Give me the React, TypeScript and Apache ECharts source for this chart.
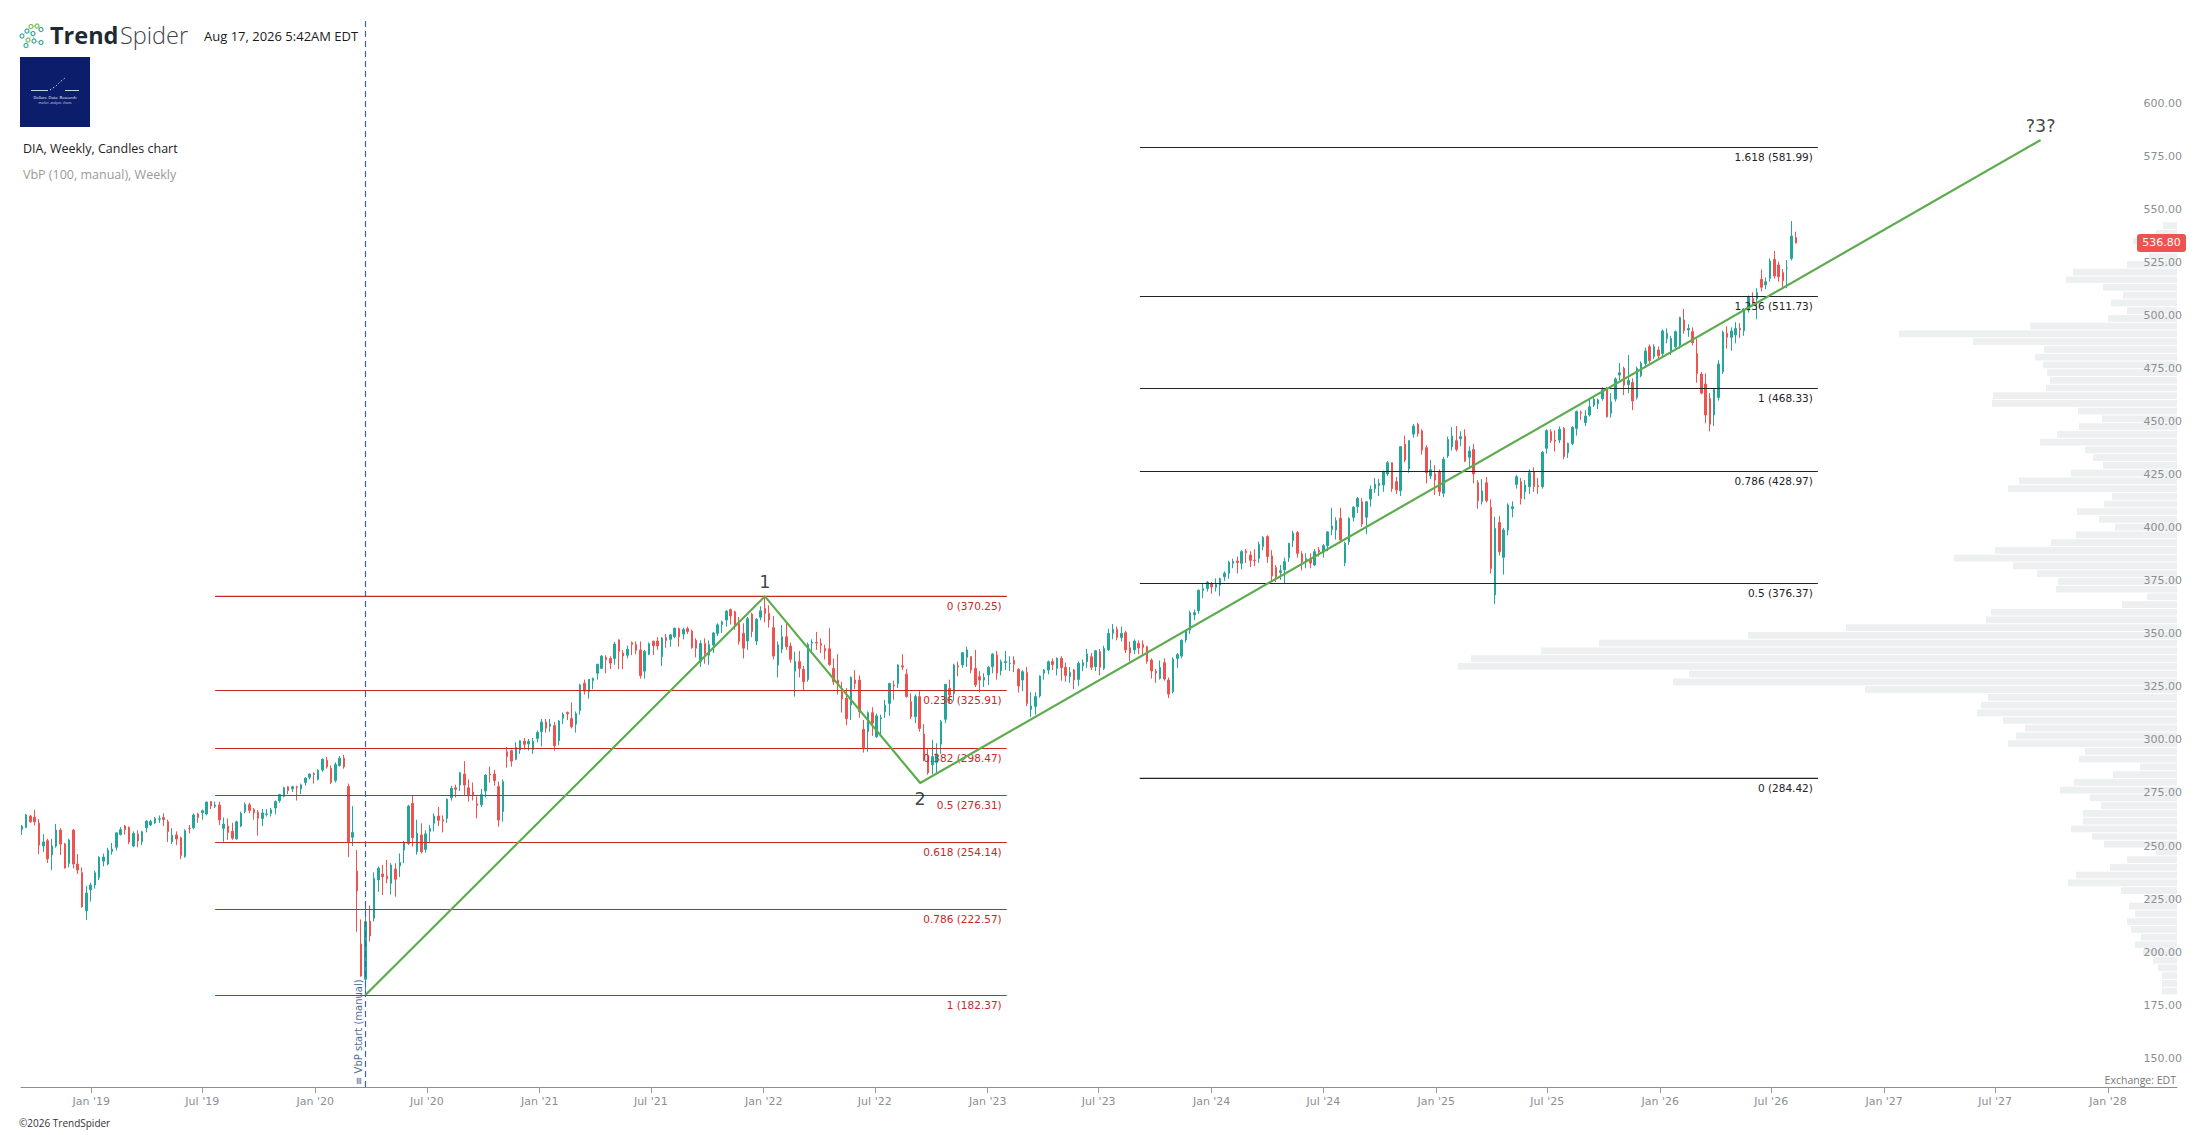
import React, { useEffect, useRef } from "react";
import * as echarts from "echarts";

const DAY = 86400000;
const ts = (s: string) => {
  const [y, m, d] = s.split("-").map(Number);
  return Date.UTC(y, m - 1, d);
};

// ---- Weekly DIA candles, one row per week (Monday): [open, high, low, close]
const weeks2018Start = "2018-09-10";
const weeks2018 = [
  [260.5, 262.5, 257.8, 261.9], [261.4, 267.7, 261.0, 267.2], [266.7, 267.3, 263.5, 264.0], [266.2, 269.6, 262.3, 264.0],
  [263.4, 265.3, 248.8, 253.0], [252.6, 258.2, 249.8, 254.5], [255.1, 256.0, 244.6, 246.5], [248.4, 255.9, 241.3, 252.6],
  [252.6, 263.0, 251.8, 260.1], [260.1, 261.0, 248.4, 253.5], [253.5, 254.0, 242.0, 242.2], [244.4, 256.0, 242.5, 255.4],
  [260.1, 260.6, 242.0, 244.1], [244.1, 248.8, 239.4, 241.3], [240.0, 242.5, 223.5, 224.0], [222.1, 233.8, 217.7, 230.4],
  [231.9, 235.3, 226.4, 234.2],
];
const weeks2019Start = "2019-01-07";
const weeks2019 = [
  [234.2, 241.0, 232.5, 240.0], [237.7, 247.8, 236.5, 247.3], [245.5, 249.0, 243.0, 247.4], [244.1, 251.8, 243.5, 250.6],
  [250.0, 254.0, 248.5, 251.1], [252.0, 259.0, 250.5, 258.8], [258.0, 261.5, 257.5, 260.3], [262.0, 262.5, 258.0, 260.3],
  [261.4, 261.8, 253.5, 254.5], [252.6, 259.5, 252.0, 258.5], [258.2, 260.0, 252.0, 255.0], [254.6, 259.8, 253.0, 259.3],
  [261.2, 264.8, 259.0, 264.3], [262.5, 265.0, 262.0, 264.1], [263.5, 266.3, 263.0, 265.6], [265.2, 267.0, 263.5, 265.4],
  [266.0, 268.0, 262.0, 265.1], [264.0, 265.0, 254.5, 259.4], [254.6, 261.0, 253.5, 257.6], [257.8, 259.5, 253.0, 255.9],
  [256.5, 257.0, 246.5, 248.2], [247.6, 260.5, 247.0, 259.8], [261.0, 262.5, 258.5, 260.9], [261.2, 268.0, 260.5, 267.2],
  [267.7, 268.2, 263.5, 266.0], [268.3, 269.8, 265.0, 269.2], [267.7, 273.5, 267.0, 273.3], [273.5, 273.8, 270.0, 271.5],
  [271.3, 273.5, 270.5, 271.9], [271.9, 273.5, 262.5, 264.9], [260.9, 266.0, 254.6, 262.9], [262.0, 265.5, 255.5, 258.9],
  [259.5, 263.5, 255.5, 256.3], [256.0, 264.5, 255.5, 264.0], [262.0, 268.8, 261.5, 268.0], [268.9, 273.2, 268.0, 272.2],
  [272.0, 273.0, 268.0, 269.4], [269.8, 270.5, 265.0, 268.2], [268.5, 269.5, 257.5, 265.7], [265.5, 270.0, 262.0, 268.2],
  [267.5, 270.0, 266.5, 267.7], [268.0, 270.5, 266.5, 269.6], [270.5, 274.0, 267.5, 273.5], [274.0, 277.2, 273.0, 276.8],
  [276.0, 280.5, 275.5, 280.1], [280.5, 280.8, 277.0, 278.8], [279.5, 281.0, 278.0, 280.5], [280.5, 281.0, 274.0, 280.2],
  [279.5, 282.0, 277.0, 281.4], [282.5, 285.0, 281.0, 284.6], [285.0, 286.8, 284.0, 286.5], [286.8, 287.2, 282.0, 286.3],
];
const weeks2020Start = "2020-01-06";
const weeks2020 = [
  [284.0, 288.8, 283.5, 288.2], [288.4, 293.8, 287.5, 293.5], [293.0, 294.5, 289.0, 289.9], [289.2, 290.5, 281.8, 282.6],
  [283.5, 292.0, 282.5, 291.0], [290.5, 295.0, 290.0, 294.0], [294.0, 295.5, 289.0, 289.9], [280.6, 282.0, 247.3, 254.6],
  [256.7, 271.4, 252.6, 259.0], [240.8, 250.7, 212.2, 231.4], [206.4, 218.0, 191.0, 191.3], [189.8, 225.6, 182.37, 216.9],
  [217.2, 224.5, 207.5, 210.3], [218.5, 240.2, 217.0, 237.3], [236.6, 243.0, 231.0, 242.1], [239.4, 243.6, 229.5, 238.1],
  [238.5, 246.0, 235.0, 237.2], [235.0, 244.5, 229.8, 243.6], [241.7, 244.5, 228.7, 236.9], [243.2, 249.1, 238.0, 244.9],
  [250.7, 255.0, 244.5, 254.2], [253.8, 272.0, 253.0, 271.4], [272.7, 276.3, 252.3, 256.5], [249.9, 265.0, 248.5, 258.6],
  [257.8, 263.3, 249.0, 249.9], [251.0, 260.0, 249.5, 258.3], [259.5, 262.5, 254.5, 260.8], [263.3, 268.0, 259.5, 266.7],
  [266.7, 271.0, 262.0, 264.7], [265.0, 267.0, 259.0, 264.3], [265.6, 275.0, 263.5, 274.6], [275.4, 281.0, 274.0, 279.8],
  [280.0, 281.5, 275.5, 279.3], [281.3, 287.5, 278.5, 287.1], [286.5, 292.6, 276.5, 281.3], [280.0, 284.0, 273.5, 276.7],
  [278.0, 282.5, 274.0, 276.6], [272.5, 276.0, 265.6, 271.7], [272.0, 279.5, 271.0, 276.8], [278.5, 286.5, 275.5, 286.0],
  [286.5, 290.0, 282.5, 286.1], [286.5, 288.5, 281.0, 283.4], [280.6, 283.0, 261.7, 264.8], [268.8, 284.0, 264.0, 282.9],
  [297.0, 299.3, 289.5, 294.8], [297.5, 298.0, 290.0, 292.6], [293.5, 301.5, 293.0, 299.1], [297.8, 302.5, 296.0, 302.2],
  [302.0, 303.5, 298.0, 300.5], [300.7, 303.0, 297.5, 301.8], [298.0, 303.5, 296.0, 302.0], [303.3, 307.0, 301.5, 306.1],
];
const weeks2021Start = "2021-01-04";
const weeks2021 = [
  [306.5, 312.5, 299.5, 311.0], [311.0, 312.5, 306.0, 308.1], [309.0, 312.5, 306.5, 310.0], [309.3, 311.0, 297.5, 299.8],
  [302.2, 312.0, 300.0, 311.5], [312.8, 315.5, 310.0, 314.6], [315.5, 316.0, 312.0, 314.9], [312.7, 320.3, 308.0, 308.8],
  [310.0, 316.0, 306.0, 315.0], [316.4, 329.0, 314.5, 328.5], [329.3, 331.0, 324.0, 325.6], [325.3, 331.3, 322.0, 331.1],
  [330.5, 332.0, 326.5, 331.5], [334.0, 338.5, 331.0, 338.2], [336.3, 342.5, 336.0, 342.1], [341.5, 342.5, 334.0, 340.4],
  [341.0, 342.0, 336.0, 338.8], [341.0, 348.8, 338.0, 347.8], [349.7, 350.0, 335.9, 344.2], [343.5, 345.0, 335.9, 342.1],
  [342.5, 347.0, 341.0, 345.3], [348.4, 349.0, 342.5, 347.6], [347.5, 349.0, 343.0, 344.8], [345.0, 349.0, 331.5, 332.9],
  [335.0, 345.0, 331.5, 344.3], [343.0, 348.5, 342.5, 347.9], [349.0, 349.5, 342.6, 347.0], [349.2, 351.0, 345.0, 346.9],
  [341.8, 351.0, 337.4, 350.6], [350.8, 352.5, 346.0, 349.4], [350.0, 352.5, 346.5, 352.1], [351.2, 355.5, 350.5, 355.2],
  [355.0, 355.5, 346.5, 351.2], [352.5, 355.5, 350.0, 354.6], [355.0, 356.0, 352.5, 353.7], [353.9, 354.5, 345.5, 346.1],
  [349.5, 350.5, 341.5, 345.8], [339.5, 349.5, 337.0, 348.0], [348.0, 350.5, 338.5, 343.3], [342.5, 349.5, 338.0, 347.5],
  [347.3, 353.5, 343.5, 353.0], [352.8, 357.5, 351.5, 356.8], [357.0, 358.8, 353.0, 358.2], [359.1, 363.7, 356.0, 363.3],
  [364.0, 364.5, 357.0, 361.0], [363.0, 363.5, 354.5, 356.0], [357.5, 360.5, 347.5, 349.0], [352.8, 357.5, 341.0, 345.8],
  [349.2, 360.5, 345.0, 359.7], [361.9, 362.5, 351.0, 353.7], [349.2, 360.0, 347.3, 359.5], [360.4, 365.5, 359.0, 363.4],
];
const weeks2022Start = "2022-01-03";
const weeks2022 = [
  [364.6, 370.25, 358.0, 362.2], [362.2, 366.0, 355.5, 359.1], [355.5, 361.0, 340.5, 342.1], [337.9, 349.0, 332.0, 347.3],
  [345.3, 356.7, 343.5, 351.2], [351.2, 357.5, 345.0, 346.5], [346.8, 348.5, 339.0, 340.6], [335.0, 344.2, 323.0, 339.5],
  [339.5, 344.5, 332.0, 336.2], [335.8, 337.5, 326.1, 330.0], [331.1, 348.5, 330.0, 347.5], [348.1, 350.0, 343.5, 348.6],
  [348.5, 353.5, 345.0, 348.2], [348.0, 350.5, 343.5, 347.2], [345.7, 347.5, 340.5, 344.5], [345.5, 355.2, 337.5, 338.1],
  [336.3, 341.0, 328.5, 330.0], [330.8, 343.0, 324.0, 329.0], [325.3, 330.0, 315.5, 322.0], [322.2, 327.0, 309.5, 312.6],
  [319.0, 332.5, 312.0, 332.1], [330.8, 335.5, 326.5, 329.2], [330.8, 333.0, 313.0, 315.9], [307.6, 312.0, 296.6, 298.9],
  [306.5, 316.0, 297.0, 315.4], [315.4, 318.0, 304.5, 310.5], [304.1, 315.0, 303.5, 313.9], [312.5, 314.5, 305.0, 313.0],
  [315.9, 321.5, 313.0, 319.0], [319.8, 329.5, 314.0, 329.2], [328.5, 330.5, 321.5, 328.0], [329.2, 338.2, 327.0, 337.9],
  [337.5, 343.0, 335.5, 336.9], [333.5, 336.0, 322.5, 323.0], [320.6, 324.5, 312.5, 313.5], [313.5, 324.0, 310.5, 323.0],
  [323.0, 326.0, 306.5, 308.0], [305.4, 310.0, 292.5, 293.4], [294.7, 298.5, 286.2, 287.1], [290.8, 302.5, 286.5, 294.7],
  [292.0, 301.0, 286.6, 296.0], [300.6, 312.0, 296.0, 311.2], [312.3, 329.0, 310.5, 328.8], [326.9, 331.0, 319.5, 323.7],
  [324.5, 338.5, 321.0, 337.9], [337.5, 339.5, 332.5, 337.0], [337.9, 344.0, 336.5, 343.7], [341.5, 346.5, 337.0, 345.0],
  [341.8, 342.0, 334.0, 335.5], [336.3, 345.0, 327.5, 328.5], [332.4, 335.0, 325.0, 330.8], [330.8, 334.0, 327.5, 332.0],
];
const weeks2023Start = "2023-01-02";
const weeks2023 = [
  [333.2, 337.5, 328.5, 336.8], [337.1, 343.5, 334.0, 343.1], [342.6, 344.5, 331.0, 334.0], [335.2, 340.5, 333.0, 339.4],
  [339.0, 344.5, 335.5, 339.5], [338.5, 342.0, 335.0, 338.7], [340.0, 342.0, 334.5, 338.3], [335.8, 336.5, 325.0, 328.0],
  [330.8, 335.5, 325.5, 334.7], [334.3, 337.0, 318.5, 319.8], [317.0, 325.0, 313.5, 318.6], [318.3, 325.0, 314.5, 323.0],
  [323.3, 333.0, 322.5, 332.7], [334.0, 336.0, 331.0, 335.5], [335.5, 340.0, 333.5, 339.4], [339.5, 341.0, 335.5, 338.1],
  [336.3, 341.5, 333.0, 341.0], [341.0, 342.0, 330.5, 336.7], [336.8, 339.0, 330.0, 333.0], [332.5, 337.0, 329.5, 334.3],
  [335.5, 336.0, 326.5, 330.9], [331.1, 339.5, 328.0, 338.7], [337.5, 340.5, 335.0, 339.0], [339.4, 345.5, 336.5, 343.1],
  [341.8, 343.5, 335.5, 336.8], [337.1, 345.0, 335.0, 344.6], [344.2, 345.5, 333.0, 336.8], [336.3, 347.0, 335.5, 345.7],
  [345.0, 355.0, 344.5, 352.8], [352.8, 357.2, 350.0, 354.7], [354.7, 356.0, 349.5, 350.9], [350.9, 356.0, 349.0, 352.8],
  [353.1, 354.0, 343.5, 345.0], [346.0, 349.0, 339.5, 343.5], [345.0, 350.0, 343.0, 349.2], [348.0, 349.5, 343.0, 346.0],
  [347.5, 349.5, 342.5, 346.2], [346.5, 347.0, 338.5, 339.6], [340.2, 341.0, 331.5, 335.1], [335.0, 336.0, 329.5, 334.1],
  [331.6, 340.0, 331.0, 336.7], [339.0, 341.0, 330.5, 331.3], [330.8, 332.0, 322.3, 324.2], [325.4, 341.5, 324.5, 340.6],
  [341.0, 343.5, 336.5, 342.8], [342.1, 350.0, 341.0, 349.5], [349.7, 354.5, 348.5, 353.9], [354.4, 363.5, 352.5, 362.5],
  [361.5, 364.0, 359.0, 362.5], [363.5, 373.5, 362.0, 373.1], [373.0, 376.0, 369.5, 373.9], [373.9, 377.5, 372.5, 376.9],
];
const weeks2024Start = "2024-01-01";
const weeks2024 = [
  [376.4, 377.0, 371.5, 374.7], [374.5, 378.7, 372.5, 375.9], [375.5, 379.0, 370.5, 378.6], [379.5, 382.0, 377.5, 381.1],
  [381.1, 387.0, 378.5, 386.3], [385.8, 388.0, 383.5, 386.7], [386.9, 389.0, 381.0, 386.2], [385.8, 392.0, 383.0, 391.3],
  [391.6, 392.5, 386.0, 390.8], [389.7, 391.5, 384.0, 387.2], [387.3, 392.5, 384.5, 387.1], [388.2, 396.0, 386.0, 394.7],
  [393.7, 398.7, 392.0, 398.0], [398.4, 399.0, 386.0, 389.0], [389.3, 392.0, 377.5, 379.8], [383.8, 385.0, 377.0, 379.5],
  [381.5, 385.0, 378.0, 382.3], [382.7, 388.5, 376.5, 386.6], [388.5, 395.5, 386.5, 395.2], [396.5, 401.2, 393.5, 400.0],
  [400.3, 401.0, 388.5, 390.5], [390.2, 391.5, 382.5, 386.6], [386.6, 390.5, 383.5, 388.0], [387.8, 390.5, 383.5, 385.9],
  [385.0, 392.5, 384.5, 391.3], [392.0, 393.5, 389.0, 391.2], [391.2, 395.0, 388.5, 394.1], [394.1, 401.0, 391.5, 400.6],
  [401.8, 412.0, 399.0, 403.4], [401.5, 407.5, 397.0, 405.9], [407.0, 412.0, 395.5, 396.8], [386.1, 396.0, 384.5, 395.2],
  [396.0, 407.5, 394.5, 407.0], [407.5, 412.8, 405.5, 412.2], [412.5, 417.0, 409.5, 416.4], [414.8, 416.5, 403.0, 404.3],
  [407.5, 415.0, 399.5, 414.8], [416.1, 422.5, 412.5, 420.7], [421.0, 426.0, 419.0, 423.1], [422.5, 425.5, 417.5, 423.5],
  [422.7, 429.5, 419.5, 429.0], [427.9, 434.0, 427.0, 433.2], [433.2, 433.5, 419.5, 421.0], [424.3, 426.5, 418.5, 420.4],
  [420.0, 441.0, 417.5, 440.8], [442.0, 446.0, 433.5, 434.5], [430.3, 443.8, 428.5, 443.6], [446.7, 451.5, 445.0, 450.5],
  [451.3, 452.0, 445.5, 447.0], [448.2, 449.0, 437.0, 439.2], [440.3, 441.5, 423.5, 428.5], [427.0, 434.5, 425.5, 429.9],
  [427.9, 432.0, 418.0, 425.1],
];
const weeks2025Start = "2025-01-06";
const weeks2025 = [
  [429.0, 430.0, 417.5, 419.6], [418.8, 436.0, 417.0, 434.8], [436.4, 445.5, 435.5, 444.2], [440.8, 450.0, 439.0, 445.8],
  [443.6, 450.5, 438.5, 439.5], [444.5, 448.0, 441.0, 445.5], [445.8, 449.0, 433.5, 434.0], [435.8, 441.0, 430.5, 438.7],
  [439.5, 442.0, 423.5, 427.9], [423.8, 425.0, 411.5, 415.2], [414.9, 425.5, 413.5, 419.9], [423.8, 426.5, 414.5, 415.3],
  [412.2, 416.0, 381.0, 383.4], [370.9, 407.8, 366.6, 402.3], [405.0, 408.0, 389.5, 391.3], [388.6, 402.5, 380.5, 401.5],
  [401.5, 414.0, 399.0, 413.3], [411.5, 415.0, 407.5, 412.5], [423.0, 427.5, 421.0, 426.6], [424.3, 426.0, 413.5, 416.4],
  [419.5, 425.0, 416.0, 422.7], [421.9, 430.0, 418.5, 428.5], [429.0, 431.0, 419.5, 422.0], [422.5, 426.0, 418.5, 421.9],
  [421.9, 438.7, 421.0, 438.2], [440.0, 449.0, 437.5, 448.3], [447.8, 449.0, 442.5, 443.7], [443.9, 448.5, 438.5, 443.4],
  [443.9, 450.3, 442.5, 449.0], [449.4, 450.0, 434.8, 436.1], [437.9, 442.7, 435.5, 442.3], [442.3, 450.5, 441.5, 449.9],
  [449.4, 457.8, 446.0, 457.3], [456.9, 457.8, 453.5, 456.5], [452.1, 458.0, 450.5, 455.2], [455.7, 463.5, 455.0, 459.6],
  [460.4, 464.3, 459.5, 463.1], [461.0, 463.5, 458.5, 462.8], [463.5, 468.8, 462.5, 467.6], [468.0, 469.0, 454.5, 454.9],
  [456.5, 466.0, 454.5, 462.0], [463.2, 473.5, 462.0, 472.7], [474.5, 480.2, 472.0, 475.6], [477.7, 478.5, 465.1, 469.8],
  [470.0, 484.0, 466.0, 472.0], [471.0, 473.0, 458.0, 462.3], [463.9, 478.5, 463.0, 477.7], [474.2, 481.0, 473.5, 480.0],
  [480.0, 487.5, 478.0, 485.9], [487.9, 489.0, 480.0, 481.3], [483.2, 489.0, 482.0, 487.9], [486.3, 488.0, 482.5, 483.6],
];
const weeks2026Start = "2026-01-05";
const weeks2026 = [
  [484.7, 496.0, 483.5, 495.3], [491.8, 496.5, 489.5, 494.2], [485.5, 493.0, 484.0, 491.8], [487.9, 495.5, 486.5, 495.0],
  [488.7, 502.0, 487.0, 501.7], [500.5, 505.7, 494.0, 495.4], [495.8, 498.5, 492.5, 496.5], [495.0, 497.0, 488.5, 489.8],
  [484.7, 491.8, 470.9, 475.3], [475.0, 476.0, 465.5, 466.0], [470.3, 475.3, 451.8, 455.7], [463.5, 466.0, 448.0, 451.4],
  [455.7, 468.5, 450.5, 467.8], [464.0, 481.5, 462.5, 479.7], [476.1, 495.5, 475.0, 494.7], [494.2, 497.5, 487.0, 492.3],
  [492.3, 497.0, 486.0, 495.3], [493.4, 499.5, 489.5, 496.5], [496.5, 499.0, 492.0, 495.8], [495.4, 506.0, 493.0, 505.2],
  [505.2, 512.0, 504.0, 511.5], [510.5, 513.5, 507.0, 509.1], [510.4, 515.4, 500.8, 513.4], [519.6, 524.3, 514.0, 515.9],
  [517.0, 520.5, 515.0, 518.5], [520.1, 529.5, 518.5, 528.3], [529.0, 533.0, 520.0, 521.2], [526.4, 528.0, 518.5, 520.9],
  [522.8, 524.5, 515.0, 519.0], [524.8, 528.7, 515.4, 524.9], [529.5, 547.1, 528.5, 540.0], [539.3, 542.1, 536.5, 536.8],
];
const lastPrice = 536.8;

// ---- Fibonacci retracement (red) and extension (black)
const redFibLevels = ["0", "0.236", "0.382", "0.5", "0.618", "0.786", "1"];
const redFibPrices = [370.25, 325.91, 298.47, 276.31, 254.14, 222.57, 182.37];
const redFibSpan = ["2019-07-22", "2023-02-01"];
const blackFibLevels = ["0", "0.5", "0.786", "1", "1.236", "1.618"];
const blackFibPrices = [284.42, 376.37, 428.97, 468.33, 511.73, 581.99];
const blackFibSpan = ["2023-09-06", "2026-09-15"];

// ---- Elliott-style wave line
const waveDates = ["2020-03-23", "2022-01-03", "2022-09-13", "2027-09-13"];
const wavePrices = [182.37, 370.25, 282.3, 585.3];
const waveLabels = ["", "1", "2", "?3?"];

// ---- Volume by price (100 rows), listed from the highest price row downward
const vbpLow = 182.37;
const vbpHigh = 546.77;
const vbpVolumes = [
  14, 21, 44, 30, 28, 50, 104, 111, 74, 54,
  66, 50, 69, 147, 278, 204, 133, 142, 134, 130,
  127, 131, 184, 185, 99, 75, 98, 120, 137, 92,
  84, 74, 106, 158, 169, 65, 73, 100, 78, 62,
  101, 126, 182, 223, 164, 140, 119, 121, 30, 55,
  186, 191, 331, 429, 578, 636, 706, 719, 488, 504,
  312, 189, 196, 200, 174, 152, 161, 169, 92, 98,
  37, 64, 103, 117, 87, 76, 94, 94, 106, 85,
  73, 21, 50, 67, 101, 109, 56, 30, 48, 42,
  50, 46, 36, 42, 34, 24, 19, 15, 15, 15,
];

// ---- Axis ticks
const priceTicks = [150, 175, 200, 225, 250, 275, 300, 325, 350, 375, 400, 425, 450, 475, 500, 525, 550, 575, 600];
const timeTicks = [
  "2019-01-01", "2019-07-01", "2020-01-01", "2020-07-01", "2021-01-01", "2021-07-01", "2022-01-01", "2022-07-01",
  "2023-01-01", "2023-07-01", "2024-01-01", "2024-07-01", "2025-01-01", "2025-07-01", "2026-01-01", "2026-07-01",
  "2027-01-01", "2027-07-01", "2028-01-01",
];
const vbpStartDate = "2020-03-23";
const MONTHS = ["Jan", "Feb", "Mar", "Apr", "May", "Jun", "Jul", "Aug", "Sep", "Oct", "Nov", "Dec"];

const FONT = "DejaVu Sans";
const UI_FONT = "Open Sans";
const UP = "#26a69a";
const DOWN = "#ef5350";

export default function App() {
  const ref = useRef<HTMLDivElement>(null);

  useEffect(() => {
    const el = ref.current;
    if (!el) return;
    const chart = echarts.init(el, null, { renderer: "svg" });

    const blocks: [string, number[][]][] = [
      [weeks2018Start, weeks2018], [weeks2019Start, weeks2019], [weeks2020Start, weeks2020],
      [weeks2021Start, weeks2021], [weeks2022Start, weeks2022], [weeks2023Start, weeks2023],
      [weeks2024Start, weeks2024], [weeks2025Start, weeks2025], [weeks2026Start, weeks2026],
    ];
    const candleData: number[][] = [];
    blocks.forEach(([start, rows]) => {
      const t0 = ts(start);
      rows.forEach((r, i) => {
        candleData.push([t0 + i * 7 * DAY, r[0], r[3], r[2], r[1]]);
      });
    });

    const step = (vbpHigh - vbpLow) / vbpVolumes.length;
    const vbpData = vbpVolumes.map((v, i) => {
      const hi = vbpHigh - i * step;
      return [v, hi - step, hi];
    });

    const T0 = ts("2019-01-01");
    const xMin = T0 - 114.4 * DAY;
    const xMax = T0 + 3399.3 * DAY;
    const yMin = 139.02;
    const yMax = 641.85;

    const fibSeries = (levels: string[], prices: number[], span: string[], color: string, name: string) => ({
      type: "line",
      name,
      data: [[ts(span[0]), prices[0]], [ts(span[1]), prices[0]]],
      symbol: "none",
      lineStyle: { color, width: 1.2 },
      z: 2,
      silent: true,
      markLine: {
        silent: true,
        symbol: ["none", "none"],
        lineStyle: { color, width: 1.2, type: "solid" },
        label: {
          show: true,
          position: "insideEndBottom",
          formatter: "{b}",
          color,
          fontSize: 10.5,
          fontFamily: FONT,
          distance: [5, 4],
        },
        emphasis: { disabled: true },
        data: prices.map((p, i) => [
          { name: `${levels[i]} (${p.toFixed(2)})`, coord: [ts(span[0]), p] },
          { coord: [ts(span[1]), p] },
        ]),
      },
    });

    const waveLabelData = waveDates
      .map((d, i) => ({ d, i }))
      .filter(({ i }) => waveLabels[i] !== "")
      .map(({ d, i }) => ({
        value: [ts(d), wavePrices[i]],
        label: {
          show: true,
          formatter: waveLabels[i],
          position: i === 2 ? "bottom" : "top",
          distance: i === 2 ? 6 : 4,
        },
      }));

    const option: any = {
      animation: false,
      backgroundColor: "#ffffff",
      textStyle: { fontFamily: FONT },
      grid: { left: 21, right: 30, top: 20, bottom: 48, containLabel: false },
      xAxis: [
        {
          type: "value",
          min: xMin,
          max: xMax,
          scale: true,
          axisLine: { show: true, lineStyle: { color: "#8e8e8e", width: 1 } },
          axisTick: {
            show: true,
            customValues: timeTicks.map(ts),
            length: 6,
            lineStyle: { color: "#9a9a9a" },
          },
          axisLabel: {
            customValues: timeTicks.map(ts),
            formatter: (v: number) => {
              const d = new Date(v);
              return `${MONTHS[d.getUTCMonth()]} '${String(d.getUTCFullYear()).slice(2)}`;
            },
            color: "#8a8f94",
            fontSize: 11,
            fontFamily: FONT,
            margin: 9,
            hideOverlap: false,
          },
          splitLine: { show: false },
        },
        {
          type: "value",
          min: 0,
          max: 2156,
          inverse: true,
          show: false,
        },
      ],
      yAxis: [
        {
          type: "value",
          position: "right",
          min: yMin,
          max: yMax,
          offset: 5,
          z: 10,
          axisLine: { show: false },
          axisTick: { show: false },
          splitLine: { show: false },
          axisLabel: {
            inside: true,
            customValues: priceTicks,
            formatter: (v: number) => v.toFixed(2),
            color: "#8a8f94",
            fontSize: 11,
            fontFamily: FONT,
            verticalAlign: "bottom",
            margin: 0,
          },
        },
      ],
      series: [
        {
          type: "custom",
          name: "VbP",
          xAxisIndex: 1,
          yAxisIndex: 0,
          z: 1,
          silent: true,
          encode: { x: 0, y: [1, 2] },
          data: vbpData,
          renderItem: (_params: any, api: any) => {
            const vol = api.value(0);
            const lo = api.value(1);
            const hi = api.value(2);
            const a = api.coord([0, hi]);
            const b = api.coord([vol, lo]);
            return {
              type: "rect",
              shape: { x: b[0], y: a[1] + 0.5, width: a[0] - b[0], height: Math.max(0, b[1] - a[1] - 1) },
              style: { fill: "#edf0f1" },
            };
          },
        },
        fibSeries(redFibLevels, redFibPrices, redFibSpan, "#c62828", "fibRed"),
        fibSeries(blackFibLevels, blackFibPrices, blackFibSpan, "#1f2326", "fibBlack"),
        {
          type: "candlestick",
          name: "DIA",
          data: candleData,
          encode: { x: 0, y: [1, 2, 3, 4] },
          barWidth: 2,
          z: 3,
          silent: true,
          itemStyle: {
            color: UP,
            color0: DOWN,
            borderColor: UP,
            borderColor0: DOWN,
            borderWidth: 1,
          },
          markLine: {
            silent: true,
            symbol: ["none", "none"],
            lineStyle: { color: "#3f66a0", width: 1.2, type: [6, 4] },
            label: {
              show: true,
              position: "insideStartTop",
              formatter: "\u2261 VbP start (manual)",
              color: "#4f6f9a",
              fontSize: 10,
              fontFamily: FONT,
              distance: 2,
            },
            emphasis: { disabled: true },
            data: [{ xAxis: ts(vbpStartDate) }],
          },
        },
        {
          type: "line",
          name: "wave",
          data: waveDates.map((d, i) => [ts(d), wavePrices[i]]),
          symbol: "none",
          lineStyle: { color: "#5cac4f", width: 2.2 },
          z: 5,
          silent: true,
        },
        {
          type: "scatter",
          name: "waveLabels",
          data: waveLabelData,
          symbol: "circle",
          symbolSize: 2,
          itemStyle: { color: "rgba(0,0,0,0)" },
          z: 6,
          silent: true,
          label: { show: true, color: "#111111", fontSize: 17.5, fontFamily: FONT },
        },
      ],
    };

    const iconNodes = [
      [22, 36, "#3aa79c"], [27, 31, "#3aa79c"], [31, 26.5, "#7cbf52"], [37, 26, "#7cbf52"], [41, 29.5, "#3aa79c"],
      [33, 33.5, "#3aa79c"], [28, 40, "#7cbf52"], [34, 41, "#3aa79c"], [41, 42.5, "#3aa79c"], [26, 45.5, "#3aa79c"],
    ];
    const iconLinks = [[0, 1], [1, 2], [1, 5], [5, 6], [6, 9], [5, 7], [7, 8], [2, 3]];
    const staticGraphics: any[] = [
      ...iconLinks.map(([a, b]) => ({
        type: "line",
        shape: { x1: iconNodes[a][0], y1: iconNodes[a][1], x2: iconNodes[b][0], y2: iconNodes[b][1] },
        style: { stroke: "#9ccfc6", lineWidth: 0.8 },
        z: 100,
      })),
      ...iconNodes.map(([x, y, c]) => ({
        type: "circle",
        shape: { cx: x, cy: y, r: 2 },
        style: { stroke: c, fill: "#ffffff", lineWidth: 1.2 },
        z: 101,
      })),
      {
        type: "text", x: 50, y: 35, z: 100,
        style: { text: "Trend", fontSize: 23.5, fontWeight: "bold", fontFamily: UI_FONT, fill: "#1e2a32", textVerticalAlign: "middle", verticalAlign: "middle" },
      },
      {
        type: "text", x: 120, y: 35, z: 100,
        style: { text: "Spider", fontSize: 23.5, fontWeight: 300, fontFamily: UI_FONT, fill: "#3b454d", textVerticalAlign: "middle", verticalAlign: "middle" },
      },
      {
        type: "text", x: 204, y: 36, z: 100,
        style: { text: "Aug 17, 2026 5:42AM EDT", fontSize: 13, fontFamily: UI_FONT, fill: "#1a1a1a", textVerticalAlign: "middle", verticalAlign: "middle" },
      },
      { type: "rect", shape: { x: 20, y: 57, width: 70, height: 70 }, style: { fill: "#0c1e6b" }, z: 100 },
      { type: "line", shape: { x1: 31, y1: 90.5, x2: 48, y2: 90.5 }, style: { stroke: "#ffffff", lineWidth: 0.8 }, z: 101 },
      { type: "line", shape: { x1: 65, y1: 90.5, x2: 79, y2: 90.5 }, style: { stroke: "#ffffff", lineWidth: 0.8 }, z: 101 },
      { type: "polyline", shape: { points: [[50, 90], [56, 86], [60, 82], [65, 78]] }, style: { stroke: "#ffffff", lineWidth: 0.8, lineDash: [1.5, 2], fill: null }, z: 101 },
      {
        type: "text", x: 55, y: 97.5, z: 101,
        style: { text: "Dollars  Data  Research", fontSize: 4, fontFamily: UI_FONT, fill: "#ffffff", textAlign: "center", align: "center", textVerticalAlign: "middle", verticalAlign: "middle" },
      },
      {
        type: "text", x: 55, y: 102.5, z: 101,
        style: { text: "market  analysis  charts", fontSize: 3, fontFamily: UI_FONT, fill: "#d8dcef", textAlign: "center", align: "center", textVerticalAlign: "middle", verticalAlign: "middle" },
      },
      {
        type: "text", x: 23, y: 148, z: 100,
        style: { text: "DIA, Weekly, Candles chart", fontSize: 12.5, fontFamily: UI_FONT, fill: "#222222", textVerticalAlign: "middle", verticalAlign: "middle" },
      },
      {
        type: "text", x: 23, y: 174, z: 100,
        style: { text: "VbP (100, manual), Weekly", fontSize: 12.5, fontFamily: UI_FONT, fill: "#9a9a9a", textVerticalAlign: "middle", verticalAlign: "middle" },
      },
      {
        type: "text", x: 19, y: 1123, z: 100,
        style: { text: "\u00a92026 TrendSpider", fontSize: 10, fontFamily: UI_FONT, fill: "#333333", textVerticalAlign: "middle", verticalAlign: "middle" },
      },
      {
        type: "text", x: 2176, y: 1079.5, z: 100,
        style: { text: "Exchange: EDT", fontSize: 10.5, fontFamily: UI_FONT, fill: "#777777", textAlign: "right", align: "right", textVerticalAlign: "middle", verticalAlign: "middle" },
      },
    ];

    option.graphic = staticGraphics;
    chart.setOption(option);

    const yTag = chart.convertToPixel({ yAxisIndex: 0 }, lastPrice) as unknown as number;
    chart.setOption({
      graphic: [
        ...staticGraphics,
        { type: "rect", shape: { x: 2137, y: yTag - 9, width: 49, height: 18, r: 3 }, style: { fill: "#ef5350" }, z: 120 },
        {
          type: "text", x: 2161.5, y: yTag, z: 121,
          style: { text: lastPrice.toFixed(2), fontSize: 11, fontFamily: FONT, fill: "#ffffff", textAlign: "center", align: "center", textVerticalAlign: "middle", verticalAlign: "middle" },
        },
      ],
    });

    return () => {
      chart.dispose();
    };
  }, []);

  return (
    <div
      ref={ref}
      style={{ position: "fixed", left: 0, top: 0, width: 2207, height: 1135, background: "#ffffff" }}
    />
  );
}
